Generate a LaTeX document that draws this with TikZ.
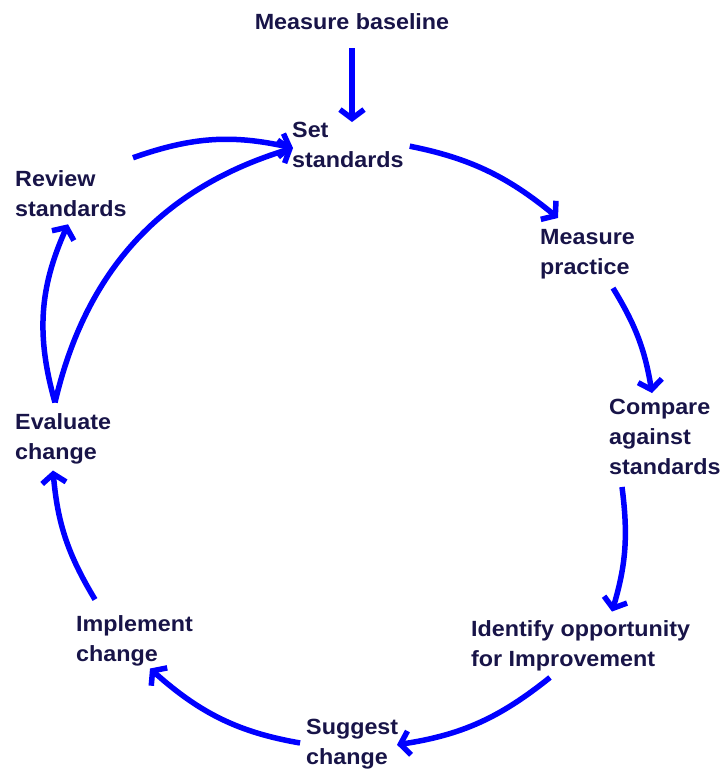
\documentclass[tikz,border=0pt]{standalone}
\usepackage{fontspec}
\setmainfont[FakeStretch=1.06]{Liberation Sans}
\usetikzlibrary{arrows.meta}

\definecolor{ciclo}{RGB}{0,0,255}
\definecolor{testo}{RGB}{24,20,72}

\tikzset{
  fase/.style={font=\bfseries\fontsize{22}{30}\selectfont, text=testo, align=left, inner sep=0pt, anchor=west},
  freccia/.style={draw=ciclo, line width=5.5pt, -{Straight Barb[length=9pt,width=24pt]}}
}

\begin{document}
\begin{tikzpicture}[x=1pt, y=1pt]
			\useasboundingbox (0,0) rectangle (724,-772);
			
			% Fasi del ciclo
			\node[fase, anchor=center] (baseline) at (352,-22) {Measure baseline};
			\node[fase] (setstd)    at (292,-145) {Set\\standards};
			\node[fase] (mpractice) at (540,-254) {Measure\\practice};
			\node[fase] (compare)   at (609,-437) {Compare\\against\\standards};
			\node[fase] (identify)  at (471,-646) {Identify opportunity\\for Improvement};
			\node[fase] (suggest)   at (306,-744) {Suggest\\change};
			\node[fase] (implement) at (76,-641)  {Implement\\change};
			\node[fase] (evaluate)  at (15,-439)  {Evaluate\\change};
			\node[fase] (review)    at (15,-194)  {Review\\standards};
			
			% Punti liberi delle frecce
			\coordinate (evtop) at ([shift={(40,11)}]evaluate.north west);
			\coordinate (rvtop) at ([shift={(118,13)}]review.north west);
			\coordinate (sttip) at ([shift={(1,-3)}]setstd.west);
			
			% Ingresso
			\draw[freccia, shorten <=18pt] (baseline.south) -- (baseline.south |- setstd.north);
			
			% Ciclo principale
			\draw[freccia, shorten <=6pt] (setstd.east) to[bend left=14] ([shift={(18,11)}]mpractice.north west);
			\draw[freccia] ([shift={(73,-9)}]mpractice.south west) to[bend left=11] ([shift={(43,6)}]compare.north west);
			\draw[freccia] ([shift={(13,-12)}]compare.south west) to[bend left=12] ([shift={(141,9)}]identify.north west);
			\draw[freccia] ([shift={(79,-6)}]identify.south west) to[bend left=15] ([shift={(91,-26)}]suggest.north west);
			\draw[freccia, shorten <=6pt] (suggest.west) to[bend left=16] ([shift={(74,-2)}]implement.south west);
			\draw[freccia] ([shift={(19,16)}]implement.north west) to[bend left=13] ([shift={(38,-6)}]evaluate.south west);
			
			% Ritorno a Set standards
			\draw[freccia] (evtop) to[bend left=20] ([shift={(53,-7)}]review.south west);
			\draw[freccia] (evtop) to[bend left=30] (sttip);
			\draw[freccia] (rvtop) to[bend left=16] (sttip);
		\end{tikzpicture}
\end{document}
